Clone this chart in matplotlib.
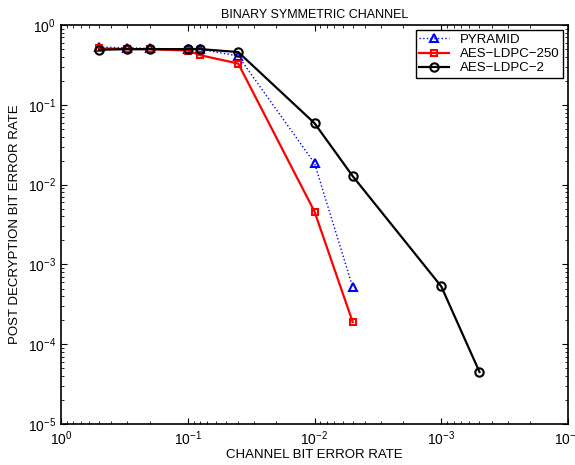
import matplotlib
matplotlib.use("Agg")
import matplotlib.pyplot as plt
import numpy as np

plt.rcParams['font.family'] = ['Liberation Sans', 'DejaVu Sans']
plt.rcParams['mathtext.fontset'] = 'custom'
plt.rcParams['mathtext.rm'] = 'Liberation Sans'

# channel bit error rate
x_pyr = [0.5, 0.3, 0.2, 0.1, 0.08, 0.04, 0.01, 0.005]
y_pyr = [0.53, 0.52, 0.51, 0.5, 0.5, 0.41, 0.0186, 5.2e-4]

x_250 = [0.5, 0.3, 0.2, 0.1, 0.08, 0.04, 0.01, 0.005]
y_250 = [0.51, 0.5, 0.5, 0.48, 0.42, 0.33, 0.0046, 1.9e-4]

x_2 = [0.5, 0.3, 0.2, 0.1, 0.08, 0.04, 0.01, 0.005, 0.001, 0.0005]
y_2 = [0.49, 0.5, 0.5, 0.5, 0.5, 0.46, 0.059, 0.0128, 5.3e-4, 4.5e-5]

fig = plt.figure(figsize=(5.75, 4.65), dpi=100)
ax = fig.add_axes([0.106, 0.088, 0.882, 0.858])

ax.plot(x_pyr, y_pyr, ':', color='blue', lw=1.0, marker='^', ms=6,
        mfc='none', mec='blue', mew=1.5, label='PYRAMID')
ax.plot(x_250, y_250, '-', color='red', lw=1.6, marker='s', ms=5,
        mfc='none', mec='red', mew=1.5, label='AES\u2212LDPC\u2212250')
ax.plot(x_2, y_2, '-', color='black', lw=1.6, marker='o', ms=6,
        mfc='none', mec='black', mew=1.5, label='AES\u2212LDPC\u22122')

ax.set_xscale('log')
ax.set_yscale('log')
ax.set_xlim(1, 1e-4)
ax.set_ylim(1e-5, 1)

ax.tick_params(which='both', direction='in', top=True, right=True, labelsize=10)
ax.tick_params(which='major', length=4)
ax.tick_params(which='minor', length=2)
for s in ax.spines.values():
    s.set_linewidth(1.2)

ax.set_title('BINARY SYMMETRIC CHANNEL', fontsize=9, pad=5)
ax.set_xlabel('CHANNEL BIT ERROR RATE', fontsize=9.5, labelpad=1)
ax.set_ylabel('POST DECRYPTION BIT ERROR RATE', fontsize=9.5, labelpad=5)

leg = ax.legend(loc='upper right', fontsize=9.5, fancybox=False, framealpha=1,
                edgecolor='black', borderpad=0.25, labelspacing=0.15,
                handlelength=2.3, borderaxespad=0.4)
leg.get_frame().set_linewidth(1.0)

fig.savefig('out.png', dpi=100)
